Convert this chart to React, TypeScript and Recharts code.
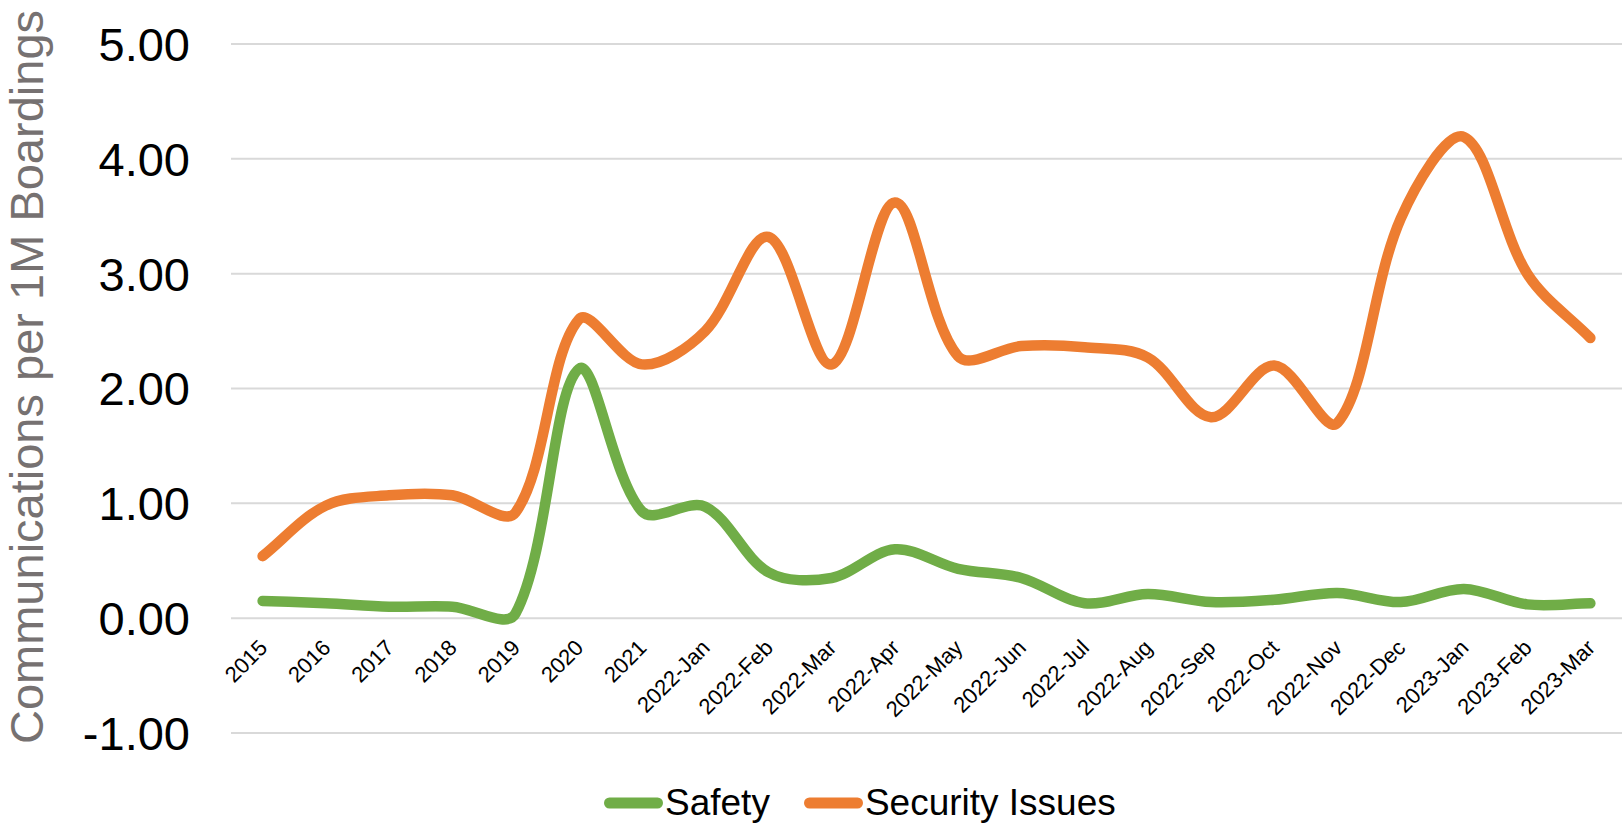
import { LineChart, Line, XAxis, YAxis, CartesianGrid, Legend } from "recharts";

const CATEGORIES = [
  "2015", "2016", "2017", "2018", "2019", "2020", "2021",
  "2022-Jan", "2022-Feb", "2022-Mar", "2022-Apr", "2022-May", "2022-Jun",
  "2022-Jul", "2022-Aug", "2022-Sep", "2022-Oct", "2022-Nov", "2022-Dec",
  "2023-Jan", "2023-Feb", "2023-Mar",
];
const SAFETY = [
  0.15, 0.13, 0.1, 0.1, 0.04, 2.17, 0.93,
  0.97, 0.4, 0.35, 0.6, 0.43, 0.35,
  0.13, 0.21, 0.14, 0.16, 0.22, 0.14,
  0.255, 0.12, 0.13,
];
const SECURITY = [
  0.54, 0.98, 1.07, 1.07, 0.92, 2.6, 2.21,
  2.5, 3.32, 2.21, 3.62, 2.28, 2.37,
  2.36, 2.27, 1.75, 2.2, 1.7, 3.48,
  4.19, 3.0, 2.44,
];
const Y_TICKS = [-1, 0, 1, 2, 3, 4, 5];

const W = 1624;
const H = 825;
const TOP = 44;
const BOTTOM = 62;
const X_AXIS_H = 30;
const Y_AXIS_W = 231;
const PLOT_H = H - TOP - BOTTOM - X_AXIS_H;
const ZERO_Y = TOP + (5 / 6) * PLOT_H;
const BAND = (W - Y_AXIS_W - 2) / CATEGORIES.length;

const FONT = '"Liberation Sans", Arial, sans-serif';
const GREEN = "#70AD47";
const ORANGE = "#ED7D31";

const data = CATEGORIES.map((c, i) => ({ label: c, safety: SAFETY[i], security: SECURITY[i] }));

// Office-style smoothed line: bezier handles along (next - prev), scaled by the
// length of the neighbouring segment so short flat runs don't overshoot much.
function officeSmooth(context: any) {
  let pts: number[][] = [];
  const T = 1 / 3;
  const handles = (p0: number[], p1: number[], p2: number[]) => {
    const d01 = Math.hypot(p1[0] - p0[0], p1[1] - p0[1]);
    const d12 = Math.hypot(p2[0] - p1[0], p2[1] - p1[1]);
    const s = d01 + d12 || 1;
    const vx = p2[0] - p0[0];
    const vy = p2[1] - p0[1];
    return {
      inn: [p1[0] - (T * d01 / s) * vx, p1[1] - (T * d01 / s) * vy],
      out: [p1[0] + (T * d12 / s) * vx, p1[1] + (T * d12 / s) * vy],
    };
  };
  return {
    areaStart() {},
    areaEnd() {},
    lineStart() { pts = []; },
    point(x: number, y: number) { pts.push([+x, +y]); },
    lineEnd() {
      if (!pts.length) return;
      context.moveTo(pts[0][0], pts[0][1]);
      for (let i = 0; i < pts.length - 1; i++) {
        const a = handles(pts[i - 1] ?? pts[i], pts[i], pts[i + 1]);
        const b = handles(pts[i], pts[i + 1], pts[i + 2] ?? pts[i + 1]);
        context.bezierCurveTo(a.out[0], a.out[1], b.inn[0], b.inn[1], pts[i + 1][0], pts[i + 1][1]);
      }
    },
  };
}

// category labels hang off the zero line, not the bottom of the plot
function CategoryTick({ x, payload }: any) {
  const ax = x + 6;
  const ay = ZERO_Y + 31;
  return (
    <text
      x={ax}
      y={ay}
      transform={`rotate(-45 ${ax} ${ay})`}
      textAnchor="end"
      fontFamily={FONT}
      fontSize={22}
      fill="#000"
    >
      {payload.value}
    </text>
  );
}

function ValueTick({ y, payload }: any) {
  return (
    <text x={190} y={y} dy="0.36em" textAnchor="end" fontFamily={FONT} fontSize={47} fill="#000">
      {Number(payload.value).toFixed(2)}
    </text>
  );
}

function AxisTitle() {
  return (
    <text
      x={43}
      y={377}
      transform="rotate(-90 43 377)"
      textAnchor="middle"
      fontFamily={FONT}
      fontSize={47}
      fill="#767171"
    >
      Communications per 1M Boardings
    </text>
  );
}

function LegendSwatches() {
  const items = [
    { name: "Safety", color: GREEN },
    { name: "Security Issues", color: ORANGE },
  ];
  return (
    <div style={{ display: "flex", alignItems: "center", fontFamily: FONT, fontSize: 37, lineHeight: 1, color: "#000" }}>
      {items.map((it, i) => (
        <div key={it.name} style={{ display: "flex", alignItems: "center", marginLeft: i ? 34 : 0 }}>
          <svg width={59} height={12} style={{ display: "block" }}>
            <line x1={5.5} y1={6} x2={53.5} y2={6} stroke={it.color} strokeWidth={11} strokeLinecap="round" />
          </svg>
          <span style={{ marginLeft: 2 }}>{it.name}</span>
        </div>
      ))}
    </div>
  );
}

export default function App() {
  return (
    <div style={{ position: "absolute", left: 0, top: 0, width: W, height: H, background: "#fff" }}>
      <LineChart width={W} height={H} data={data} margin={{ top: TOP, right: 2, bottom: BOTTOM, left: 0 }}>
        <CartesianGrid vertical={false} stroke="#D9D9D9" strokeWidth={2} />
        <XAxis
          dataKey="label"
          interval={0}
          height={X_AXIS_H}
          axisLine={false}
          tickLine={false}
          padding={{ left: BAND / 2, right: BAND / 2 }}
          tick={<CategoryTick />}
        />
        <YAxis
          width={Y_AXIS_W}
          domain={[-1, 5]}
          ticks={Y_TICKS}
          axisLine={false}
          tickLine={false}
          tick={<ValueTick />}
          label={<AxisTitle />}
        />
        <Legend
          layout="horizontal"
          align="center"
          verticalAlign="middle"
          wrapperStyle={{ top: 784, left: 604, width: 600 }}
          content={<LegendSwatches />}
        />
        <Line
          dataKey="safety"
          name="Safety"
          type={officeSmooth as any}
          stroke={GREEN}
          strokeWidth={10.5}
          strokeLinecap="round"
          strokeLinejoin="round"
          dot={false}
          activeDot={false}
          isAnimationActive={false}
        />
        <Line
          dataKey="security"
          name="Security Issues"
          type={officeSmooth as any}
          stroke={ORANGE}
          strokeWidth={10.5}
          strokeLinecap="round"
          strokeLinejoin="round"
          dot={false}
          activeDot={false}
          isAnimationActive={false}
        />
      </LineChart>
    </div>
  );
}
